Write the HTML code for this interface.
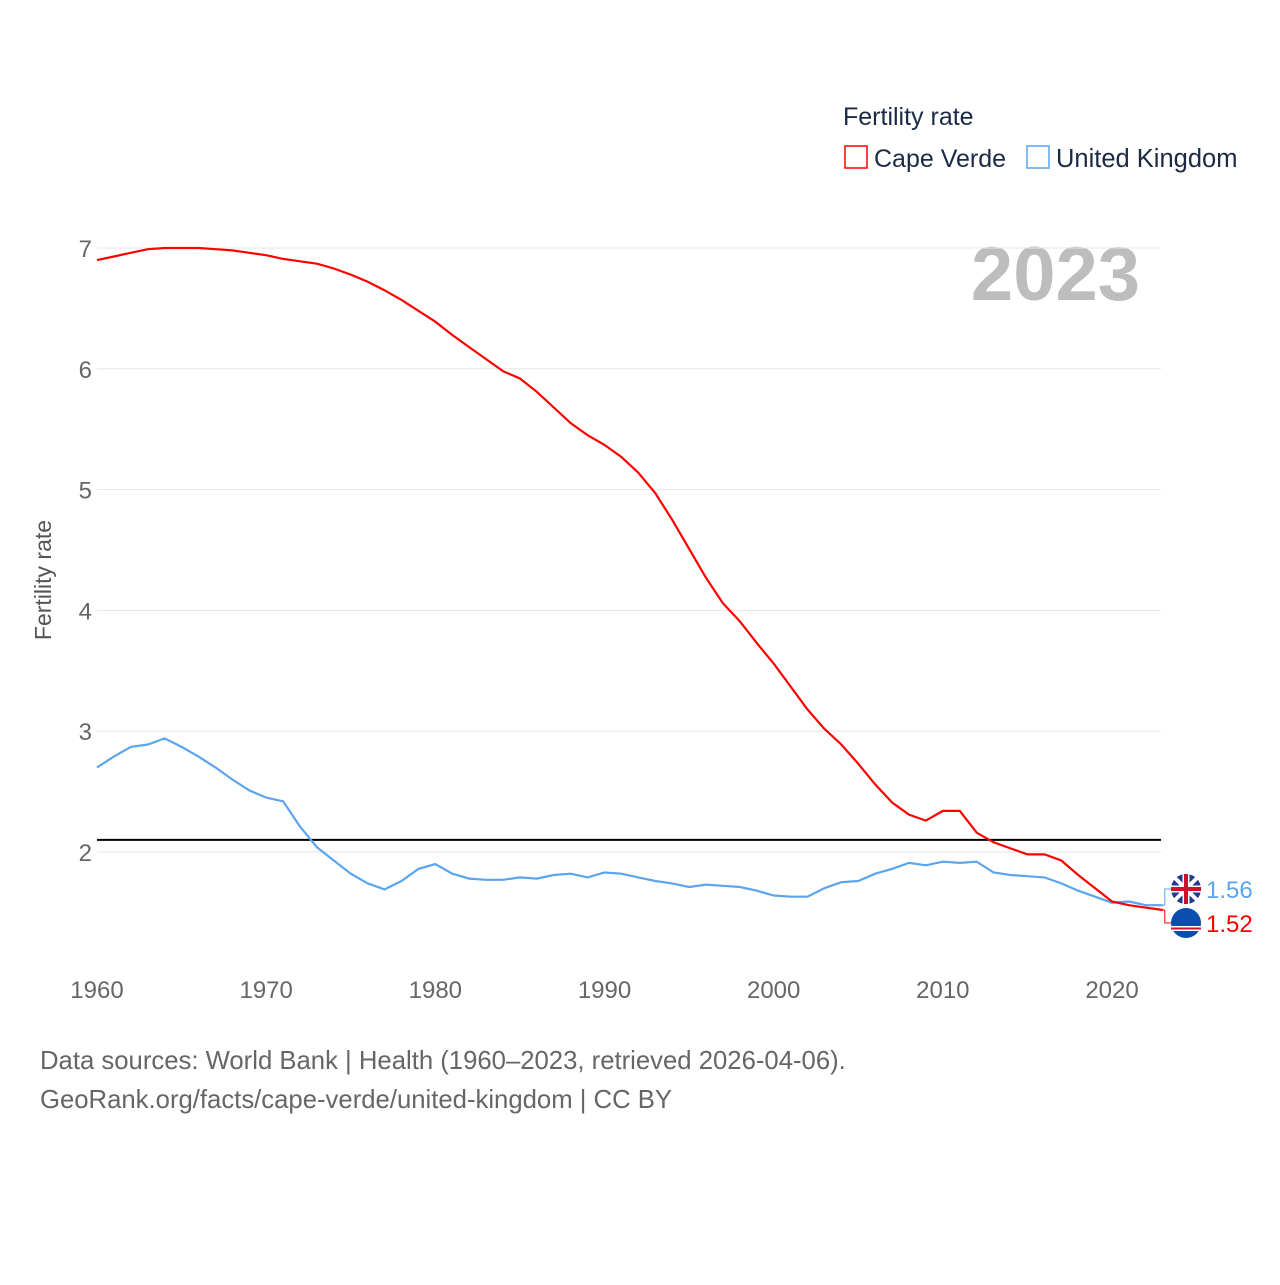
<!DOCTYPE html>
<html><head><meta charset="utf-8"><style>
body{margin:0;background:#fff;font-family:"Liberation Sans",sans-serif}
svg text{font-family:"Liberation Sans",sans-serif}
</style></head><body>
<svg id="chart" width="1280" height="1280" viewBox="0 0 1280 1280">
<g>
<text x="843" y="125" font-size="25" fill="#1a2a44">Fertility rate</text>
<rect x="845" y="146" width="22" height="22" fill="none" stroke="#ff0000" stroke-width="1.5"/>
<text x="874" y="167" font-size="25" fill="#1a2a44">Cape Verde</text>
<rect x="1027" y="146" width="22" height="22" fill="none" stroke="#5ba4ee" stroke-width="1.5"/>
<text x="1056" y="167" font-size="25.5" fill="#1a2a44">United Kingdom</text>
</g>
<text x="1140" y="300" font-size="76" font-weight="bold" fill="#bdbdbd" text-anchor="end">2023</text>
<text transform="translate(51,580) rotate(-90)" font-size="23" fill="#555" text-anchor="middle">Fertility rate</text>
<g id="grid"></g><g id="series"></g><g id="labels"></g>
<text x="40" y="1069" font-size="25.7" fill="#666">Data sources: World Bank | Health (1960–2023, retrieved 2026-04-06).</text>
<text x="40" y="1108" font-size="25.7" fill="#666">GeoRank.org/facts/cape-verde/united-kingdom | CC BY</text>
</svg>
<script>
const years=[];for(let y=1960;y<=2023;y++)years.push(y);
const capeVerde=[6.90,6.93,6.96,6.99,7.0,7.0,7.0,6.99,6.98,6.96,6.94,6.91,6.89,6.87,6.83,6.78,6.72,6.65,6.57,6.48,6.39,6.28,6.18,6.08,5.98,5.92,5.81,5.68,5.55,5.45,5.37,5.27,5.14,4.97,4.75,4.51,4.27,4.06,3.91,3.73,3.56,3.37,3.18,3.02,2.89,2.73,2.56,2.41,2.31,2.26,2.34,2.34,2.16,2.08,2.03,1.98,1.98,1.93,1.81,1.70,1.59,1.56,1.54,1.52];
const uk=[2.70,2.79,2.87,2.89,2.94,2.87,2.79,2.70,2.60,2.51,2.45,2.42,2.21,2.04,1.93,1.82,1.74,1.69,1.76,1.86,1.90,1.82,1.78,1.77,1.77,1.79,1.78,1.81,1.82,1.79,1.83,1.82,1.79,1.76,1.74,1.71,1.73,1.72,1.71,1.68,1.64,1.63,1.63,1.70,1.75,1.76,1.82,1.86,1.91,1.89,1.92,1.91,1.92,1.83,1.81,1.80,1.79,1.74,1.68,1.63,1.58,1.59,1.56,1.56];
const yTicks=[2,3,4,5,6,7];
const xTicks=[1960,1970,1980,1990,2000,2010,2020];
const replacement=2.1;
const NS="http://www.w3.org/2000/svg";
const xs=y=>97+(y-1960)*16.917, ys=v=>852-(v-2)*120.8;
function mk(t,a,p){const e=document.createElementNS(NS,t);for(const k in a)e.setAttribute(k,a[k]);p.appendChild(e);return e;}
const g=document.getElementById('grid');
yTicks.forEach(v=>{
 const l=mk('line',{x1:97,x2:1161,y1:ys(v),y2:ys(v),stroke:'#e6e6e6','stroke-width':1},g);
 
 
 const t=mk('text',{x:92,y:ys(v)+9,'font-size':24,fill:'#666','text-anchor':'end'},g);t.textContent=v;
 
 
});
xTicks.forEach(y=>{
 const t=mk('text',{x:xs(y),y:998,'font-size':24,fill:'#666','text-anchor':'middle'},g);t.textContent=y;
 
 
});
const s=document.getElementById('series');
const rl=mk('line',{x1:97,x2:1161,y1:ys(replacement),y2:ys(replacement),stroke:'#000','stroke-width':2},s);


function line(d,c,n){const p=mk('path',{d:d.map((v,i)=>(i?'L':'M')+xs(years[i]).toFixed(1)+','+ys(v).toFixed(1)).join(''),fill:'none',stroke:c,'stroke-width':2.2},s);
 
 }
line(uk,'#5ba4ee','line-united-kingdom');
line(capeVerde,'#ff0000','line-cape-verde');
const L=document.getElementById('labels');
function lab(v,c,ly,n,flag){
 const x0=xs(2023),y0=ys(v);
 mk('path',{d:`M${x0},${y0}H${x0+2}V${ly}H${x0+10}`,fill:'none',stroke:c,'stroke-width':1},L);
 const f=mk('g',{},L);
 
 
 if(flag==='uk'){
  mk('circle',{cx:1186,cy:ly,r:15,fill:'#1f3c8a'},f);
  mk('path',{d:`M1175,${ly-11}L1197,${ly+11}M1197,${ly-11}L1175,${ly+11}`,stroke:'#fff','stroke-width':4},f);
  mk('path',{d:`M1171,${ly}H1201M1186,${ly-15}V${ly+15}`,stroke:'#fff','stroke-width':7},f);
  mk('path',{d:`M1171,${ly}H1201M1186,${ly-15}V${ly+15}`,stroke:'#d0102a','stroke-width':4},f);
 }else{
  mk('circle',{cx:1186,cy:ly,r:15,fill:'#0a4fb0'},f);
  mk('rect',{x:1171,y:ly+3,width:30,height:5,fill:'#fff'},f);
  mk('rect',{x:1171,y:ly+4.5,width:30,height:2,fill:'#d0102a'},f);
 }
 const t=mk('text',{x:1206,y:ly+9,'font-size':24,fill:c},L);t.textContent=v.toFixed(2);
 
 
}
lab(uk[uk.length-1],'#5ba4ee',889,'united-kingdom','uk');
lab(capeVerde[capeVerde.length-1],'#ff0000',923,'cape-verde','cv');
</script>
</body></html>
